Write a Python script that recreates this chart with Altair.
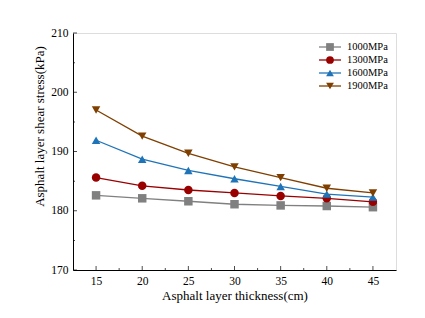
import altair as alt
import pandas as pd

thickness = [15, 20, 25, 30, 35, 40, 45]
series = ["1000MPa", "1300MPa", "1600MPa", "1900MPa"]
s1000 = [182.6, 182.1, 181.6, 181.1, 180.9, 180.8, 180.6]
s1300 = [185.6, 184.2, 183.5, 183.0, 182.5, 182.1, 181.5]
s1600 = [191.9, 188.7, 186.8, 185.4, 184.1, 182.8, 182.3]
s1900 = [197.0, 192.6, 189.7, 187.4, 185.6, 183.8, 183.0]
colors = ["#808080", "#990000", "#1f74b8", "#7f3f00"]
shapes = ["square", "circle", "triangle-up", "triangle-down"]
y_major = [170, 180, 190, 200, 210]
y_minor = [175, 185, 195, 205]
x_minor = [17.5, 22.5, 27.5, 32.5, 37.5, 42.5]

rows = []
for name, shp, vals in zip(series, shapes, [s1000, s1300, s1600, s1900]):
    for t, v in zip(thickness, vals):
        rows.append({"t": t, "v": v, "s": name, "m": shp})
df = pd.DataFrame(rows)
leg_df = pd.DataFrame({"s": series, "m": shapes})

W, H = 323, 237
FONT = "Liberation Serif"

xs = alt.Scale(domain=[12.5, 47.5], nice=False, zero=False)
ys = alt.Scale(domain=[170, 210], nice=False, zero=False)
cs = alt.Scale(domain=series, range=colors)
col = alt.Color("s:N", scale=cs, legend=None)

x_enc = alt.X("t:Q", scale=xs, axis=alt.Axis(
    values=thickness, tickSize=0, grid=False, labelFont=FONT, labelFontSize=11.5,
    labelPadding=5, title="Asphalt layer thickness(cm)", titleFont=FONT,
    titleFontSize=13, titleFontWeight="normal", titlePadding=3,
    domainColor="black", labelColor="black", titleColor="black"))
y_enc = alt.Y("v:Q", scale=ys, axis=alt.Axis(
    values=y_major, tickSize=0, grid=False, labelFont=FONT, labelFontSize=11.5,
    labelPadding=5, title="Asphalt layer shear stress(kPa)", titleFont=FONT,
    titleFontSize=13, titleFontWeight="normal", titleX=-27, titleY=93,
    domainColor="black", labelColor="black", titleColor="black"))

base = alt.Chart(df)
lines = base.mark_line(strokeWidth=1.3).encode(x=x_enc, y=y_enc, color=col)
points = base.mark_point(filled=True, size=72, opacity=1).encode(
    x="t:Q", y="v:Q", color=col, shape=alt.Shape("m:N", scale=None))

ymaj = alt.Chart(pd.DataFrame({"v": y_major})).mark_tick(size=4, thickness=1, color="black").encode(
    y="v:Q", x=alt.value(2))
ymin = alt.Chart(pd.DataFrame({"v": y_minor})).mark_tick(size=2, thickness=1, color="black").encode(
    y="v:Q", x=alt.value(1))
xmaj = alt.Chart(pd.DataFrame({"t": thickness})).mark_tick(size=4, thickness=1, color="black").encode(
    x="t:Q", y=alt.value(H - 2))
xmin = alt.Chart(pd.DataFrame({"t": x_minor})).mark_tick(size=2, thickness=1, color="black").encode(
    x="t:Q", y=alt.value(H - 1))

main = alt.layer(lines, points, ymaj, ymin, xmaj, xmin)

ly = alt.Y("s:N", scale=alt.Scale(type="point", domain=series, range=[14, 53], padding=0), axis=None)
lbase = alt.Chart(leg_df)
leg_line = lbase.mark_rule(strokeWidth=1.3).encode(
    x=alt.value(246), x2=alt.value(268), y=ly, color=col)
leg_pt = lbase.mark_point(filled=True, size=60, opacity=1).encode(
    x=alt.value(257), y=ly, color=col, shape=alt.Shape("m:N", scale=None))
leg_txt = lbase.mark_text(align="left", baseline="middle", font=FONT, fontSize=10.5, color="black").encode(
    x=alt.value(274), y=ly, text="s:N")
legend = alt.layer(leg_line, leg_pt, leg_txt)

chart = alt.layer(main, legend).resolve_scale(y="independent").properties(
    width=W, height=H,
    autosize=alt.AutoSizeParams(type="none"),
    padding={"left": 65, "top": 25, "right": 20, "bottom": 40},
).configure_view(stroke="black", strokeWidth=1).configure(background="white")

chart.save("out.html", embed_options={"renderer": "svg", "actions": False})
